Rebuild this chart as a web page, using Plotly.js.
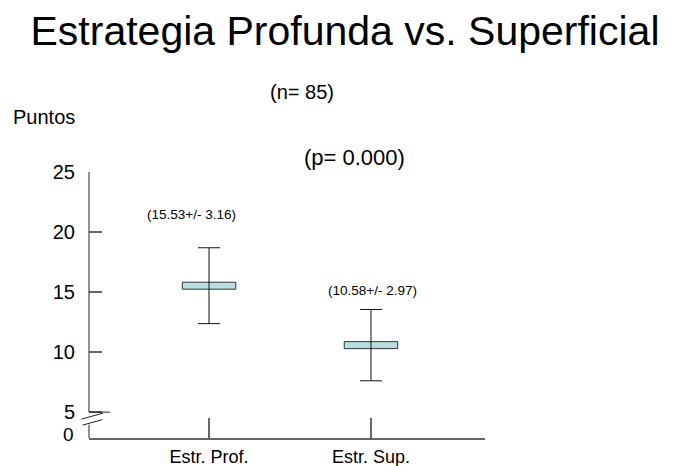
<!DOCTYPE html>
<html>
<head>
<meta charset="utf-8">
<script src="https://cdn.plot.ly/plotly-3.0.1.min.js"></script>
<style>html,body{margin:0;padding:0;background:#fff;}#chart{width:678px;height:466px;}</style>
</head>
<body>
<div id="chart"></div>
<script>
// ---- data ----
const categories = ["Estr. Prof.", "Estr. Sup."];
const means = [15.53, 10.58];
const sds = [3.16, 2.97];
const yTickVals = [5, 10, 15, 20, 25];
const yTickText = ["5", "10", "15", "20", "25"];
const titleText = "Estrategia Profunda vs. Superficial";
const nText = "(n= 85)";
const pText = "(p= 0.000)";
const yLabel = "Puntos";
const breakLabel = "0";

// ---- drawing ----
const FONT = "Liberation Sans, Arial, Helvetica, sans-serif";
const boxHalf = 0.29; // half height of the mean box in data units

const boxTrace = {
  type: "bar",
  x: categories,
  y: means.map(() => 2 * boxHalf),
  base: means.map(m => m - boxHalf),
  width: 0.33,
  marker: {color: "#b7dfe1", line: {color: "#333", width: 1}},
  hoverinfo: "skip",
  showlegend: false
};

const errTrace = {
  type: "scatter",
  mode: "markers",
  x: categories,
  y: means,
  marker: {size: 1, opacity: 0},
  error_y: {type: "data", array: sds, visible: true, color: "#111", thickness: 1, width: 11},
  hoverinfo: "skip",
  showlegend: false
};

const labelPos = [{xshift: -18, y: 0.8388}, {xshift: 2, y: 0.5536}];
const annotations = [
  {text: nText, xref: "paper", yref: "paper", x: 0.538, y: 1.3006, xanchor: "center", yanchor: "middle", showarrow: false, font: {size: 20, color: "#000", family: FONT}},
  {text: yLabel, xref: "paper", yref: "paper", x: -0.1124, y: 1.205, xanchor: "center", yanchor: "middle", showarrow: false, font: {size: 20, color: "#000", family: FONT}},
  {text: pText, xref: "paper", yref: "paper", x: 0.6705, y: 1.0551, xanchor: "center", yanchor: "middle", showarrow: false, font: {size: 22, color: "#000", family: FONT}},
  {text: breakLabel, xref: "paper", yref: "paper", x: -0.034, y: 0.012, xanchor: "right", yanchor: "middle", showarrow: false, font: {size: 19, color: "#000", family: FONT}}
];
categories.forEach((c, i) => {
  annotations.push({
    text: "(" + means[i].toFixed(2) + "+/- " + sds[i].toFixed(2) + ")",
    xref: "x", yref: "paper", x: c, y: labelPos[i].y, xshift: labelPos[i].xshift,
    xanchor: "center", yanchor: "middle", showarrow: false,
    font: {size: 13.5, color: "#000", family: FONT}
  });
});

const shapes = [
  // upper y-axis segment (5 .. 25)
  {type: "line", xref: "paper", yref: "y", x0: 0, x1: 0, y0: 5, y1: 25, line: {color: "#222", width: 1}},
  // extended line at 5 (top of the break)
  {type: "line", xref: "paper", yref: "y", x0: 0, x1: 0.053, y0: 5, y1: 5, line: {color: "#222", width: 1}},
  // break slashes
  {type: "line", xref: "paper", yref: "y", xsizemode: "pixel", ysizemode: "pixel", xanchor: 0, yanchor: 5,
   x0: -7.5, y0: -7, x1: 14, y1: -1, line: {color: "#222", width: 1}},
  {type: "line", xref: "paper", yref: "y", xsizemode: "pixel", ysizemode: "pixel", xanchor: 0, yanchor: 5,
   x0: -6.5, y0: -13, x1: 13.5, y1: -7.5, line: {color: "#222", width: 1}},
  // lower y-axis segment (below the break)
  {type: "line", xref: "paper", yref: "y", xsizemode: "pixel", ysizemode: "pixel", xanchor: 0, yanchor: 5,
   x0: 0, y0: -12.5, x1: 0, y1: -26, line: {color: "#222", width: 1}}
];

const layout = {
  width: 678, height: 466,
  margin: {l: 89, r: 193, t: 172, b: 28, pad: 0},
  paper_bgcolor: "#fff", plot_bgcolor: "#fff",
  font: {family: FONT, color: "#000"},
  title: {text: titleText, font: {size: 41, color: "#000", family: FONT}, x: 345 / 678, xanchor: "center", y: 1 - 31 / 466, yanchor: "middle", xref: "container", yref: "container"},
  showlegend: false,
  xaxis: {
    type: "category", range: [-0.741, 1.704], fixedrange: true,
    showline: true, linecolor: "#666", linewidth: 2, mirror: false,
    ticks: "inside", ticklen: 20, tickcolor: "#666", tickwidth: 1.5,
    showgrid: false, zeroline: false,
    tickfont: {size: 18, color: "#000", family: FONT},
    ticklabelstandoff: 1
  },
  yaxis: {
    range: [2.845, 25], fixedrange: true,
    showline: false, showgrid: false, zeroline: false,
    ticks: "inside", ticklen: 13.4, tickcolor: "#666", tickwidth: 1.5,
    tickvals: yTickVals, ticktext: yTickText,
    tickfont: {size: 20, color: "#000", family: FONT},
    ticklabelstandoff: 13
  },
  annotations: annotations,
  shapes: shapes,
  hovermode: false
};

Plotly.newPlot("chart", [boxTrace, errTrace], layout, {displayModeBar: false, staticPlot: true});
</script>
</body>
</html>
